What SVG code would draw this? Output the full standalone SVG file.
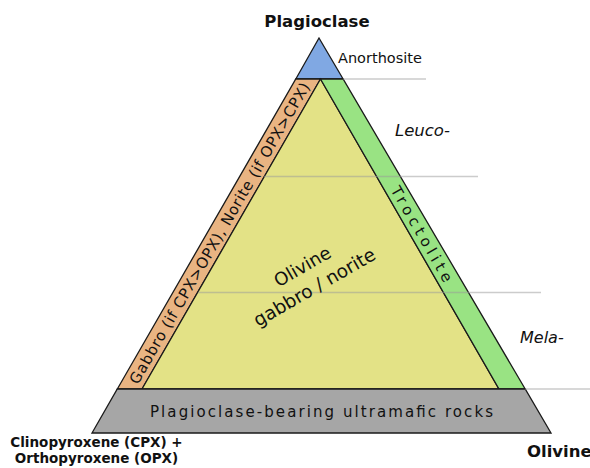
<svg xmlns="http://www.w3.org/2000/svg" width="590" height="468" viewBox="0 0 590 468">
<style>
.f{stroke:#1a1a1a;stroke-width:1.3;stroke-linejoin:miter}
.t{font-family:"DejaVu Sans","Liberation Sans",sans-serif;fill:#111}
.b{font-weight:bold}
.i{font-style:italic}
.g{stroke:#999;stroke-width:1.6;opacity:0.5;fill:none}
</style>
<rect width="590" height="468" fill="#fff"/>
<g id="anorthosite"><polygon class="f" fill="#80a8e3" points="319,38 343.1,79 295.8,79"/></g>
<g id="gabbro-norite"><polygon class="f" fill="#e9b482" points="295.8,79 320.5,79 142,389 117.3,389"/></g>
<g id="olivine-gabbro"><polygon class="f" fill="#e3e286" points="320.5,79 499,389 142,389"/></g>
<g id="troctolite"><polygon class="f" fill="#99e383" points="320.5,79 343.1,79 525.2,389 499,389"/></g>
<g id="ultramafic"><polygon class="f" fill="#a6a6a6" points="117.3,389 525.2,389 551,433 92,433"/></g>
<g id="guides">
<line class="g" x1="343" y1="79" x2="426" y2="79"/>
<line class="g" x1="264" y1="176.5" x2="478" y2="176.5"/>
<line class="g" x1="198" y1="292.5" x2="541" y2="292.5"/>
<line class="g" x1="525" y1="389" x2="590" y2="389"/>
</g>
<g id="labels">
<text class="t b" x="317" y="27" font-size="16.5" text-anchor="middle">Plagioclase</text>
<text class="t" x="338" y="63" font-size="14.5">Anorthosite</text>
<text class="t i" x="395" y="136" font-size="16.5">Leuco-</text>
<text class="t i" x="520" y="343" font-size="16">Mela-</text>
<text class="t" transform="translate(422,234) rotate(60)" y="5.5" font-size="15" text-anchor="middle" textLength="108" lengthAdjust="spacing">Troctolite</text>
<text class="t" transform="translate(219.3,233) rotate(-60)" y="5.5" font-size="15" text-anchor="middle" textLength="345" lengthAdjust="spacing">Gabbro (if CPX&gt;OPX), Norite (if OPX&gt;CPX)</text>
<g transform="translate(309,278) rotate(-30)">
<text class="t" x="0" y="-7" font-size="18" text-anchor="middle">Olivine</text>
<text class="t" x="0" y="17" font-size="18.5" text-anchor="middle">gabbro / norite</text>
</g>
<text class="t" x="321.5" y="417" font-size="15" text-anchor="middle" textLength="343" lengthAdjust="spacing">Plagioclase-bearing ultramafic rocks</text>
<text class="t b" x="96.5" y="447" font-size="13.5" text-anchor="middle">Clinopyroxene (CPX) +</text>
<text class="t b" x="96.5" y="463" font-size="13.5" text-anchor="middle">Orthopyroxene (OPX)</text>
<text class="t b" x="527" y="457" font-size="16.5">Olivine</text>
</g>
</svg>
